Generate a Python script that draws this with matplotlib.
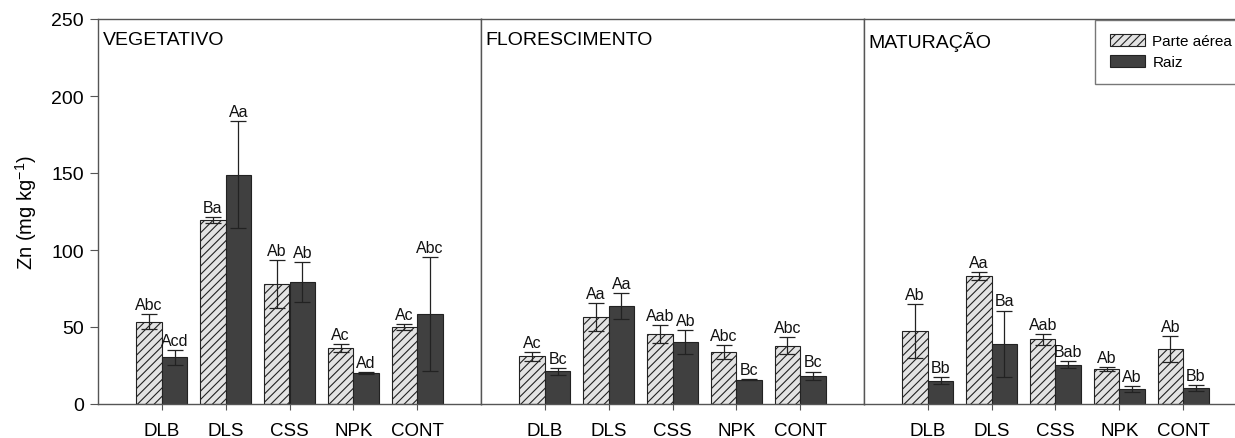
import matplotlib
matplotlib.use("Agg")
import matplotlib.pyplot as plt
import numpy as np
from matplotlib.patches import Patch

plt.rcParams['font.family'] = ['Liberation Sans', 'DejaVu Sans']
plt.rcParams['mathtext.default'] = 'regular'
plt.rcParams['hatch.linewidth'] = 0.8
plt.rcParams['hatch.color'] = '#333333'

categories = ['DLB', 'DLS', 'CSS', 'NPK', 'CONT']
stages = ['VEGETATIVO', 'FLORESCIMENTO', 'MATURAÇÃO']
series_names = ['Parte aérea', 'Raiz']

veg_parte = [53.5, 119.5, 78.0, 36.6, 50.2]
veg_parte_err = [5.0, 2.0, 15.5, 2.6, 2.0]
veg_raiz = [30.3, 149.0, 79.0, 20.1, 58.2]
veg_raiz_err = [5.0, 35.0, 13.0, 0.5, 37.0]
veg_parte_lbl = ['Abc', 'Ba', 'Ab', 'Ac', 'Ac']
veg_raiz_lbl = ['Acd', 'Aa', 'Ab', 'Ad', 'Abc']

flo_parte = [31.0, 56.3, 45.5, 33.5, 37.7]
flo_parte_err = [3.0, 9.0, 5.7, 4.6, 5.5]
flo_raiz = [21.2, 63.4, 40.0, 15.8, 18.4]
flo_raiz_err = [2.3, 8.5, 7.8, 0.5, 2.7]
flo_parte_lbl = ['Ac', 'Aa', 'Aab', 'Abc', 'Abc']
flo_raiz_lbl = ['Bc', 'Aa', 'Ab', 'Bc', 'Bc']

mat_parte = [47.2, 83.0, 41.9, 22.8, 35.8]
mat_parte_err = [17.5, 2.4, 3.5, 1.1, 8.3]
mat_raiz = [15.2, 39.0, 25.6, 9.8, 10.4]
mat_raiz_err = [2.2, 21.7, 2.2, 1.8, 2.2]
mat_parte_lbl = ['Ab', 'Aa', 'Aab', 'Ab', 'Ab']
mat_raiz_lbl = ['Bb', 'Ba', 'Bab', 'Ab', 'Bb']

panels = [
    (veg_parte, veg_parte_err, veg_parte_lbl, veg_raiz, veg_raiz_err, veg_raiz_lbl),
    (flo_parte, flo_parte_err, flo_parte_lbl, flo_raiz, flo_raiz_err, flo_raiz_lbl),
    (mat_parte, mat_parte_err, mat_parte_lbl, mat_raiz, mat_raiz_err, mat_raiz_lbl),
]

W, H = 1235, 439
fig = plt.figure(figsize=(W / 100, H / 100), dpi=100)

left_px = 98
panel_w = 383
bottom_px = 34
height_px = 385

light = '#e3e3e3'
dark = '#404040'
spine_c = '#555555'
bw = 0.4
x = np.arange(len(categories))

axes = []
for i, (p, pe, pl, r, re_, rl) in enumerate(panels):
    ax = fig.add_axes([(left_px + i * panel_w) / W, bottom_px / H, panel_w / W, height_px / H])
    axes.append(ax)
    ax.bar(x - bw / 2, p, bw, color=light, edgecolor='#222222', hatch='////', linewidth=0.8, zorder=2)
    ax.bar(x + bw / 2, r, bw, color=dark, edgecolor='#222222', linewidth=0.8, zorder=2)
    ax.errorbar(x - bw / 2, p, yerr=pe, fmt='none', ecolor='#222222', elinewidth=0.9, capsize=6, capthick=0.9, zorder=3)
    ax.errorbar(x + bw / 2, r, yerr=re_, fmt='none', ecolor='#222222', elinewidth=0.9, capsize=6, capthick=0.9, zorder=3)
    for xi, v, e, t in zip(x - bw / 2, p, pe, pl):
        ax.annotate(t, (xi, v + e), xytext=(0, 1.5), textcoords='offset points',
                    ha='center', va='bottom', fontsize=11.5, color='#111111', zorder=4)
    for xi, v, e, t in zip(x + bw / 2, r, re_, rl):
        ax.annotate(t, (xi, v + e), xytext=(0, 1.5), textcoords='offset points',
                    ha='center', va='bottom', fontsize=11.5, color='#111111', zorder=4)
    ax.set_xlim(-1, 5)
    ax.set_ylim(0, 250)
    ax.set_xticks(x)
    ax.set_xticklabels(categories, fontsize=13.5)
    ax.tick_params(axis='x', direction='out', length=4, width=0.8, color=spine_c, pad=9)
    for s in ax.spines.values():
        s.set_color(spine_c)
        s.set_linewidth(1.0)
    ax.text(0.012, 0.97, stages[i], transform=ax.transAxes, ha='left', va='top', fontsize=14)
    ax.set_yticks([0, 50, 100, 150, 200, 250])
    if i == 0:
        ax.tick_params(axis='y', direction='out', length=6, width=0.8, color=spine_c, labelsize=14, pad=4)
        ax.set_ylabel('Zn (mg kg$^{-1}$)', fontsize=14.5, labelpad=9)
    else:
        ax.tick_params(axis='y', left=False, labelleft=False)

handles = [Patch(facecolor=light, edgecolor='#222222', hatch='////', linewidth=0.8, label=series_names[0]),
           Patch(facecolor=dark, edgecolor='#222222', linewidth=0.8, label=series_names[1])]
leg = fig.legend(handles=handles, loc='upper left', bbox_to_anchor=(1095 / W, 1 - 20.5 / H),
                 fontsize=11, frameon=True, fancybox=False, edgecolor=spine_c,
                 handlelength=2.3, handleheight=0.8, handletextpad=0.5, labelspacing=0.45,
                 borderpad=0.95, borderaxespad=0)
leg.get_frame().set_linewidth(1.0)

fig.savefig('out.png', dpi=100)
